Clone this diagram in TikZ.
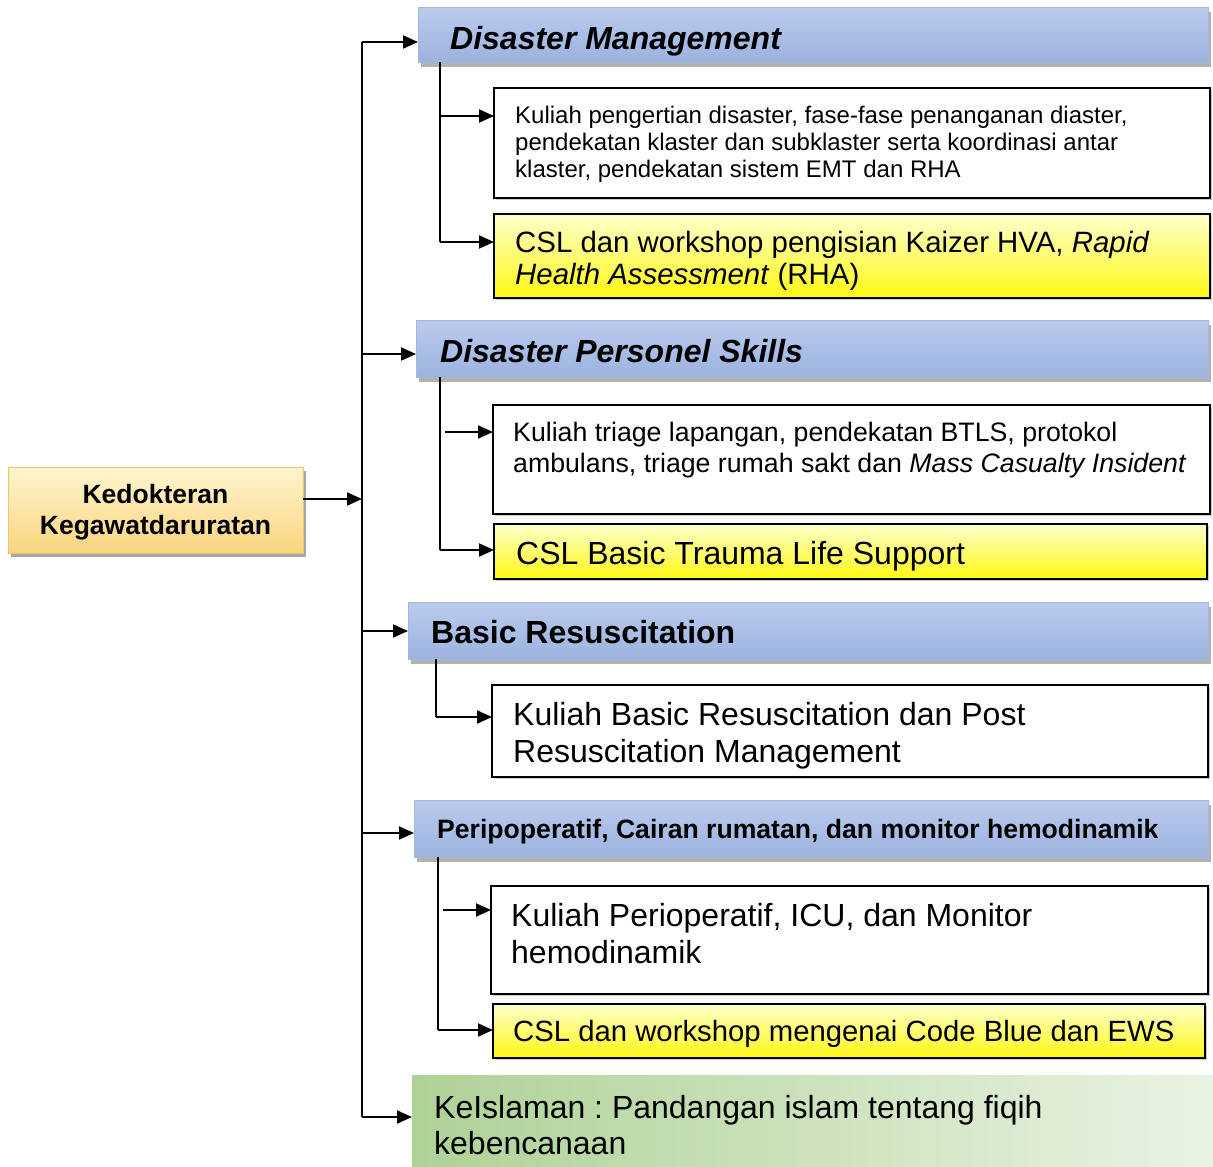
\documentclass[tikz,border=0pt]{standalone}
\usepackage{fontspec}
\setmainfont{Liberation Sans}
\usetikzlibrary{arrows.meta,shadows}
\definecolor{hdrtop}{RGB}{186,203,237}
\definecolor{hdrmid}{RGB}{234,239,249}
\definecolor{hdrbot}{RGB}{156,179,223}
\definecolor{hdrline}{RGB}{165,184,220}
\definecolor{yeltop}{RGB}{255,255,205}
\definecolor{yelbot}{RGB}{255,248,20}
\definecolor{grnL}{RGB}{174,210,150}
\definecolor{grnR}{RGB}{234,243,228}
\definecolor{roottop}{RGB}{255,246,208}
\definecolor{rootbot}{RGB}{249,212,126}
\definecolor{rootline}{RGB}{242,198,100}
\newcommand\setfs[1]{\fontsize{#1}{#1}\selectfont}
\frenchspacing
\tikzset{
  boxbase/.style={inner sep=0pt, anchor=north west, outer sep=0pt},
  hdr/.style={boxbase, draw=hdrline, line width=0.8pt, top color=hdrtop, middle color=hdrmid, bottom color=hdrbot,
    drop shadow={shadow xshift=3pt, shadow yshift=-5pt, fill=black, opacity=0.3}},
  whitebox/.style={boxbase, draw=black, line width=1.5pt, fill=white,
    drop shadow={shadow xshift=2pt, shadow yshift=-2pt, fill=black, opacity=0.2}},
  yelbox/.style={boxbase, draw=black, line width=1.5pt, top color=yeltop, bottom color=yelbot,
    drop shadow={shadow xshift=2pt, shadow yshift=-2pt, fill=black, opacity=0.2}},
  grnbox/.style={boxbase, left color=grnL, right color=grnR},
  rootbox/.style={boxbase, draw=rootline, line width=1pt, top color=roottop, bottom color=rootbot,
    drop shadow={shadow xshift=3pt, shadow yshift=-4pt, fill=black, opacity=0.35}},
  txt/.style={inner sep=0pt, anchor=base west},
  line/.style={draw=black, line width=2pt},
  conn/.style={line, -{Triangle[length=15pt,width=13pt]}},
}
\begin{document}
\begin{tikzpicture}[x=1pt,y=-1pt]
\useasboundingbox[fill=white] (0,0) rectangle (1213,1167);

% root
\node[rootbox, minimum width=295pt, minimum height=86pt] (root) at (8,467) {};
\node[inner sep=0pt, anchor=base, font=\setfs{26.5}\bfseries] (rt1) at (155.5,503.5) {Kedokteran};
\node[inner sep=0pt, anchor=base, font=\setfs{26.5}\bfseries] (rt2) at (155.5,534.5) {Kegawatdaruratan};

% headers
\node[hdr, minimum width=790pt, minimum height=55pt] (h1) at (418,7) {};
\node[txt, font=\setfs{32}\bfseries\itshape] (h1t) at (450,49) {Disaster Management};
\node[hdr, minimum width=792pt, minimum height=57pt] (h2) at (416,320) {};
\node[txt, font=\setfs{32}\bfseries\itshape] (h2t) at (440,362) {Disaster Personel Skills};
\node[hdr, minimum width=800pt, minimum height=57pt] (h3) at (408,602) {};
\node[txt, font=\setfs{32}\bfseries] (h3t) at (431,643.5) {Basic Resuscitation};
\node[hdr, minimum width=794pt, minimum height=57pt] (h4) at (414,800) {};
\node[txt, font=\setfs{26.6}\bfseries] (h4t) at (437,838) {Peripoperatif, Cairan rumatan, dan monitor hemodinamik};
\node[grnbox, minimum width=810pt, minimum height=100pt] (g) at (412,1075) {};
\node[txt, font=\setfs{32}] (gt1) at (434,1118.5) {KeIslaman : Pandangan islam tentang fiqih};
\node[txt, font=\setfs{32}] (gt2) at (434,1154.5) {kebencanaan};

% boxes
\node[whitebox, minimum width=716pt, minimum height=110pt] (b1a) at (494,88) {};
\node[txt, font=\setfs{24}] (b1a1) at (515,123.6) {Kuliah pengertian disaster, fase-fase penanganan diaster,};
\node[txt, font=\setfs{24}] (b1a2) at (515,150.6) {pendekatan klaster dan subklaster serta koordinasi antar};
\node[txt, font=\setfs{24}] (b1a3) at (515,177.6) {klaster, pendekatan sistem EMT dan RHA};

\node[yelbox, minimum width=716pt, minimum height=84pt] (b1b) at (494,214) {};
\node[txt, font=\setfs{29.4}] (b1b1) at (515,252.5) {CSL dan workshop pengisian Kaizer HVA, \textit{Rapid}};
\node[txt, font=\setfs{29.4}] (b1b2) at (515,284.5) {\textit{Health Assessment} (RHA)};

\node[whitebox, minimum width=717pt, minimum height=109pt] (b2a) at (493,405) {};
\node[txt, font=\setfs{26.7}] (b2a1) at (513,441.6) {Kuliah triage lapangan, pendekatan BTLS, protokol};
\node[txt, font=\setfs{26.7}] (b2a2) at (513,472.6) {ambulans, triage rumah sakt dan \textit{Mass Casualty Insident}};

\node[yelbox, minimum width=713pt, minimum height=55pt] (b2b) at (494,524) {};
\node[txt, font=\setfs{32}] (b2b1) at (516,564) {CSL Basic Trauma Life Support};

\node[whitebox, minimum width=716pt, minimum height=92pt] (b3a) at (492,685) {};
\node[txt, font=\setfs{32}] (b3a1) at (513,725.5) {Kuliah Basic Resuscitation dan Post};
\node[txt, font=\setfs{32}] (b3a2) at (513,762.5) {Resuscitation Management};

\node[whitebox, minimum width=717pt, minimum height=108pt] (b4a) at (491,886) {};
\node[txt, font=\setfs{32}] (b4a1) at (511,926.5) {Kuliah Perioperatif, ICU, dan Monitor};
\node[txt, font=\setfs{32}] (b4a2) at (511,963.5) {hemodinamik};

\node[yelbox, minimum width=712pt, minimum height=54pt] (b4b) at (493,1004) {};
\node[txt, font=\setfs{29.3}] (b4b1) at (513,1041.5) {CSL dan workshop mengenai Code Blue dan EWS};

% main spine
\coordinate (sA) at (362,42);
\coordinate (sB) at (362,354);
\coordinate (sC) at (362,631);
\coordinate (sD) at (362,833);
\coordinate (sE) at (362,1117);
\coordinate (rj) at (362,499);
\draw[line] (sA) -- (sE);
\draw[conn] (sA) -- (sA -| h1.west);
\draw[conn] (sB) -- (sB -| h2.west);
\draw[conn] (sC) -- (sC -| h3.west);
\draw[conn] (sD) -- (sD -| h4.west);
\draw[conn] (sD |- sE) -- (sE -| g.west);
\draw[conn] (rj -| root.east) -- (rj);

% sub spines
\coordinate (d1a) at (440,116);
\coordinate (d1b) at (440,242);
\draw[line] (d1a |- h1.south) -- (d1b);
\draw[conn] (d1a) -- (d1a -| b1a.west);
\draw[conn] (d1b) -- (d1b -| b1b.west);

\coordinate (d2s) at (440,550);
\coordinate (d2a) at (445,432);
\coordinate (d2b) at (440,550);
\draw[line] (d2s |- h2.south) -- (d2s);
\draw[conn] (d2a) -- (d2a -| b2a.west);
\draw[conn] (d2b) -- (d2b -| b2b.west);

\coordinate (d3a) at (436,717);
\draw[line] (d3a |- h3.south) -- (d3a);
\draw[conn] (d3a) -- (d3a -| b3a.west);

\coordinate (d4a) at (443,910);
\coordinate (d4b) at (438,1030);
\draw[line] (d4b |- h4.south) -- (d4b);
\draw[conn] (d4a) -- (d4a -| b4a.west);
\draw[conn] (d4b) -- (d4b -| b4b.west);
\end{tikzpicture}
\end{document}
